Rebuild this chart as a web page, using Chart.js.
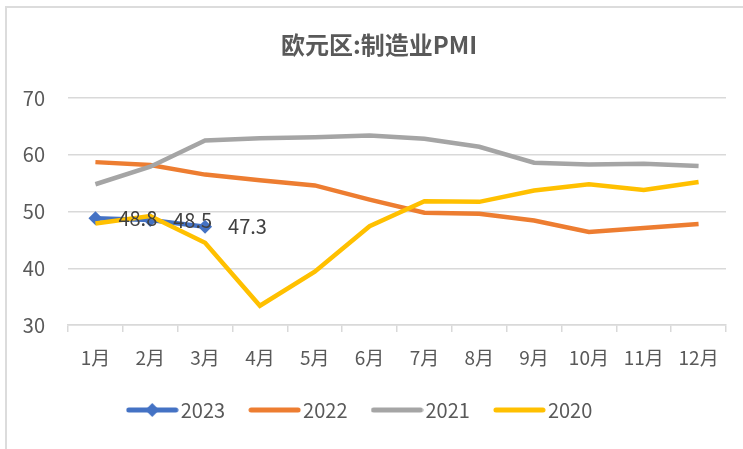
<!DOCTYPE html>
<html>
<head>
<meta charset="utf-8">
<script src="https://cdn.jsdelivr.net/npm/chart.js@4.4.1/dist/chart.umd.min.js"></script>
<style>
  html, body { margin: 0; padding: 0; background: #fff; overflow: hidden; }
  #frame { position: absolute; left: 5px; top: 6px; width: 738px; height: 443px; border-left: 2px solid #dcdcdc; border-top: 2px solid #dcdcdc; box-sizing: border-box; }
  #wrap { position: absolute; left: 0; top: 0; width: 743px; height: 449px; }
</style>
</head>
<body>
<div id="frame"></div>
<div id="wrap"><canvas id="chart"></canvas></div>
<script>
// data
const months = ['1月', '2月', '3月', '4月', '5月', '6月', '7月', '8月', '9月', '10月', '11月', '12月'];
const pmi2023 = [48.8, 48.5, 47.3];
const pmi2022 = [58.7, 58.2, 56.5, 55.5, 54.6, 52.1, 49.8, 49.6, 48.4, 46.4, 47.1, 47.8];
const pmi2021 = [54.8, 57.9, 62.5, 62.9, 63.1, 63.4, 62.8, 61.4, 58.6, 58.3, 58.4, 58.0];
const pmi2020 = [47.9, 49.2, 44.5, 33.4, 39.4, 47.4, 51.8, 51.7, 53.7, 54.8, 53.8, 55.2];
const yTicks = [30, 40, 50, 60, 70];

const FONT = '"Noto Sans CJK SC", "Noto Sans", sans-serif';
const AXIS_GREY = '#d9d9d9';
const TEXT_GREY = '#595959';

// legend swatch: a line, with a diamond for 2023
function swatch(color, diamond) {
    const c = document.createElement('canvas');
    c.width = 53; c.height = 18;
    const g = c.getContext('2d');
    g.strokeStyle = color;
    g.lineWidth = 5;
    g.lineCap = 'round';
    g.beginPath(); g.moveTo(3, 9); g.lineTo(50, 9); g.stroke();
    if (diamond) {
        g.fillStyle = color;
        g.beginPath();
        g.moveTo(26.5, 2); g.lineTo(33.5, 9); g.lineTo(26.5, 16); g.lineTo(19.5, 9);
        g.closePath(); g.fill();
    }
    return c;
}

const titlePlugin = {
    id: 'excelTitle',
    afterDraw(chart) {
        const ctx = chart.ctx;
        ctx.save();
        ctx.font = 'bold 24px ' + FONT;
        ctx.fillStyle = TEXT_GREY;
        ctx.textAlign = 'center';
        ctx.textBaseline = 'middle';
        ctx.fillText('欧元区:制造业PMI', 379, 45);
        ctx.restore();
    }
};

const labelPlugin = {
    id: 'valueLabels',
    afterDatasetsDraw(chart) {
        const ctx = chart.ctx;
        const meta = chart.getDatasetMeta(0);
        ctx.save();
        ctx.font = '20px ' + FONT;
        ctx.fillStyle = '#404040';
        ctx.textAlign = 'left';
        ctx.textBaseline = 'middle';
        meta.data.forEach((pt, i) => {
            ctx.fillText(pmi2023[i].toFixed(1), pt.x + 23, pt.y);
        });
        ctx.restore();
    }
};

const series = [
    { label: '2023', data: pmi2023, color: '#4472C4', marker: true, order: 4 },
    { label: '2022', data: pmi2022, color: '#ED7D31', marker: false, order: 3 },
    { label: '2021', data: pmi2021, color: '#A5A5A5', marker: false, order: 2 },
    { label: '2020', data: pmi2020, color: '#FFC000', marker: false, order: 1 }
];

const chart = new Chart(document.getElementById('chart'), {
    type: 'line',
    data: {
        labels: months,
        datasets: series.map(s => ({
            label: s.label,
            data: s.data,
            order: s.order,
            borderColor: s.color,
            backgroundColor: s.color,
            borderWidth: 4.5,
            tension: 0,
            fill: false,
            pointStyle: 'rectRot',
            pointRadius: s.marker ? 7 : 0,
            pointBorderWidth: 0,
            pointHoverRadius: s.marker ? 7 : 0
        }))
    },
    options: {
        responsive: true,
        maintainAspectRatio: false,
        animation: false,
        layout: { padding: { top: 98, right: 17, bottom: 19, left: 0 } },
        plugins: {
            title: { display: false },
            tooltip: { enabled: false },
            legend: {
                position: 'bottom',
                labels: {
                    usePointStyle: true,
                    pointStyleWidth: 37,
                    padding: 31,
                    color: TEXT_GREY,
                    font: { family: FONT, size: 20 },
                    generateLabels: () => series.map((s, i) => ({
                        text: s.label,
                        fillStyle: s.color,
                        strokeStyle: s.color,
                        lineWidth: 0,
                        pointStyle: swatch(s.color, s.marker),
                        datasetIndex: i,
                        fontColor: TEXT_GREY
                    }))
                }
            }
        },
        scales: {
            x: {
                offset: true,
                afterFit: scale => { scale.height = 44; },
                border: { display: true, color: AXIS_GREY, width: 1.5 },
                grid: {
                    offset: true,
                    drawOnChartArea: false,
                    drawTicks: true,
                    tickLength: 7,
                    color: AXIS_GREY,
                    lineWidth: 1.5
                },
                ticks: {
                    color: TEXT_GREY,
                    padding: 14,
                    maxRotation: 0,
                    autoSkip: false,
                    font: { family: FONT, size: 19 }
                }
            },
            y: {
                min: yTicks[0],
                max: yTicks[yTicks.length - 1],
                afterFit: scale => { scale.width = 68; },
                afterBuildTicks: scale => { scale.ticks = yTicks.map(v => ({ value: v })); },
                border: { display: false },
                grid: { color: AXIS_GREY, lineWidth: 1.5, drawTicks: false },
                ticks: {
                    color: TEXT_GREY,
                    padding: 23,
                    font: { family: FONT, size: 20 }
                }
            }
        }
    },
    plugins: [titlePlugin, labelPlugin]
});
</script>
</body>
</html>
